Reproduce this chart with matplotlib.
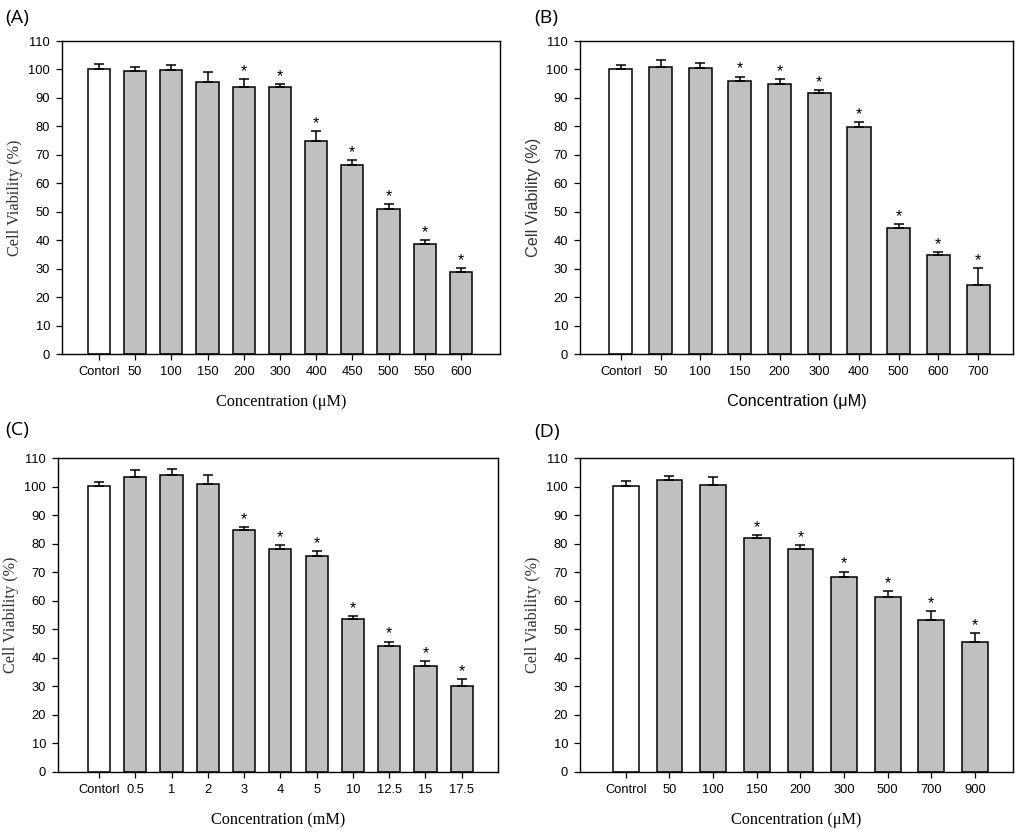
import matplotlib.pyplot as plt

# panel A
labels_a = ["Contorl", "50", "100", "150", "200", "300", "400", "450", "500", "550", "600"]
vals_a = [100.1, 99.6, 99.7, 95.6, 94.0, 93.9, 74.9, 66.4, 50.9, 38.5, 28.9]
err_a = [1.8, 1.3, 2.0, 3.5, 2.7, 1.1, 3.5, 1.7, 1.9, 1.6, 1.4]
star_a = [0, 0, 0, 0, 1, 1, 1, 1, 1, 1, 1]

# panel B
labels_b = ["Contorl", "50", "100", "150", "200", "300", "400", "500", "600", "700"]
vals_b = [100.2, 100.9, 100.5, 95.9, 94.9, 91.7, 79.7, 44.3, 34.7, 24.1]
err_b = [1.4, 2.4, 1.7, 1.6, 1.7, 1.2, 1.7, 1.5, 1.0, 6.2]
star_b = [0, 0, 0, 1, 1, 1, 1, 1, 1, 1]

# panel C
labels_c = ["Contorl", "0.5", "1", "2", "3", "4", "5", "10", "12.5", "15", "17.5"]
vals_c = [100.2, 103.3, 103.9, 101.0, 84.7, 78.0, 75.5, 53.5, 44.1, 37.2, 30.0]
err_c = [1.5, 2.4, 2.4, 2.9, 1.1, 1.4, 2.0, 1.1, 1.6, 1.7, 2.6]
star_c = [0, 0, 0, 0, 1, 1, 1, 1, 1, 1, 1]

# panel D
labels_d = ["Control", "50", "100", "150", "200", "300", "500", "700", "900"]
vals_d = [100.2, 102.3, 100.7, 82.1, 78.0, 68.2, 61.3, 53.4, 45.5]
err_d = [1.7, 1.4, 2.6, 1.0, 1.4, 2.0, 2.1, 3.0, 3.2]
star_d = [0, 0, 0, 1, 1, 1, 1, 1, 1]

sans = "Liberation Sans"
serif = "Liberation Serif"

fig = plt.figure(figsize=(10.24, 8.32), dpi=100)


def px(l, r, t, b):
    return [l / 1024, (832 - b) / 832, (r - l) / 1024, (b - t) / 832]


def panel(rect, labels, vals, err, stars, xlab, xlim, width, labfont):
    ax = fig.add_axes(rect)
    x = list(range(len(vals)))
    colors = ["white"] + ["#c0c0c0"] * (len(vals) - 1)
    ax.bar(x, vals, width=width, color=colors, edgecolor="black", linewidth=1.1, zorder=2)
    ax.errorbar(x, vals, yerr=[[0] * len(vals), err], fmt="none", ecolor="black",
                elinewidth=1.1, capsize=3.6, capthick=1.1, zorder=3)
    for i in x:
        if stars[i]:
            ax.annotate("*", (i, vals[i] + err[i]), xytext=(0, 0), textcoords="offset points",
                        ha="center", va="bottom", fontsize=11.5, family=sans)
    ax.set_xlim(*xlim)
    ax.set_ylim(0, 110)
    ax.set_yticks(range(0, 111, 10))
    ax.set_xticks(x)
    ax.set_xticklabels(labels)
    ax.tick_params(direction="out", length=4.5, width=0.9, labelsize=9.3, top=False, right=False, pad=4)
    for t in ax.get_xticklabels() + ax.get_yticklabels():
        t.set_family(sans)
    for s in ax.spines.values():
        s.set_linewidth(1.0)
    ax.set_ylabel("Cell Viability (%)", family=labfont, fontsize=11.7, color="#333333", labelpad=4)
    ax.set_xlabel(xlab, family=labfont, fontsize=11.7, labelpad=12)
    return ax


panel(px(62, 500, 41, 354), labels_a, vals_a, err_a, star_a,
      "Concentration (\u03bcM)", (-1.02, 11.08), 0.61, serif)
panel(px(580, 1013, 41, 354), labels_b, vals_b, err_b, star_b,
      "Concentration (\u03bcM)", (-1.03, 9.88), 0.58, sans)
panel(px(58, 498, 458, 772), labels_c, vals_c, err_c, star_c,
      "Concentration (mM)", (-1.13, 11.0), 0.61, serif)
panel(px(580, 1013, 458, 772), labels_d, vals_d, err_d, star_d,
      "Concentration (\u03bcM)", (-1.05, 8.87), 0.59, serif)

for letter, xx, yy in [("(A)", 5, 18), ("(B)", 534, 18), ("(C)", 5, 430), ("(D)", 534, 432)]:
    fig.text(xx / 1024, 1 - yy / 832, letter, fontsize=14, family="Open Sans", va="center", ha="left")

fig.savefig("out.png", dpi=100)
